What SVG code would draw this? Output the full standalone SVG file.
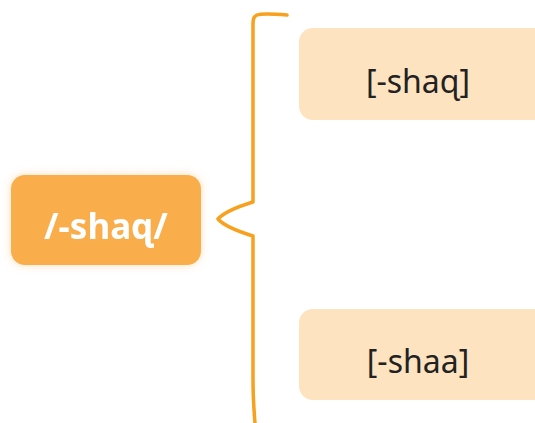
<svg xmlns="http://www.w3.org/2000/svg" width="535" height="423" viewBox="0 0 535 423">
  <defs>
    <filter id="shadow" x="-20%" y="-30%" width="140%" height="160%">
      <feGaussianBlur in="SourceAlpha" stdDeviation="4" result="b"/>
      <feFlood flood-color="#FBC98A" flood-opacity="0.6"/>
      <feComposite operator="in" in2="b" result="s"/>
      <feMerge><feMergeNode in="s"/><feMergeNode in="SourceGraphic"/></feMerge>
    </filter>
  </defs>
  <style>
    .root { fill: #F9AE4C; }
    .leaf { fill: #FEE3C0; }
    .rootText { font-family: "Noto Sans", "DejaVu Sans", sans-serif; font-weight: bold; font-size: 35px; fill: #FFFFFF; text-anchor: middle; }
    .leafText { font-family: "Noto Sans", "DejaVu Sans", sans-serif; font-size: 32px; fill: #222222; text-anchor: middle; }
    .brace { fill: none; stroke: #F7A11E; stroke-width: 3.5; stroke-linecap: round; stroke-linejoin: round; }
  </style>
  <rect width="535" height="423" fill="#FFFFFF"/>
  <g id="connectors">
    <path class="brace" d="M287,15 C275,14 262,13 257,15 C253,17 253,20 253,26 L253,202 C240,206 225,211 218,219 C225,227 240,232 253,236 L253,380 C253,400 254,410 255,423"/>
  </g>
  <g id="node-root" filter="url(#shadow)">
    <rect class="root" x="11" y="175" width="190" height="90" rx="14"/>
    <text class="rootText" x="106" y="239">/-shaɋ/</text>
  </g>
  <g id="node-top">
    <rect class="leaf" x="299" y="28" width="250" height="92" rx="14"/>
    <text class="leafText" x="418" y="93">[-shaɋ]</text>
  </g>
  <g id="node-bottom">
    <rect class="leaf" x="299" y="309" width="250" height="91" rx="14"/>
    <text class="leafText" x="418" y="373">[-shaa]</text>
  </g>
</svg>
